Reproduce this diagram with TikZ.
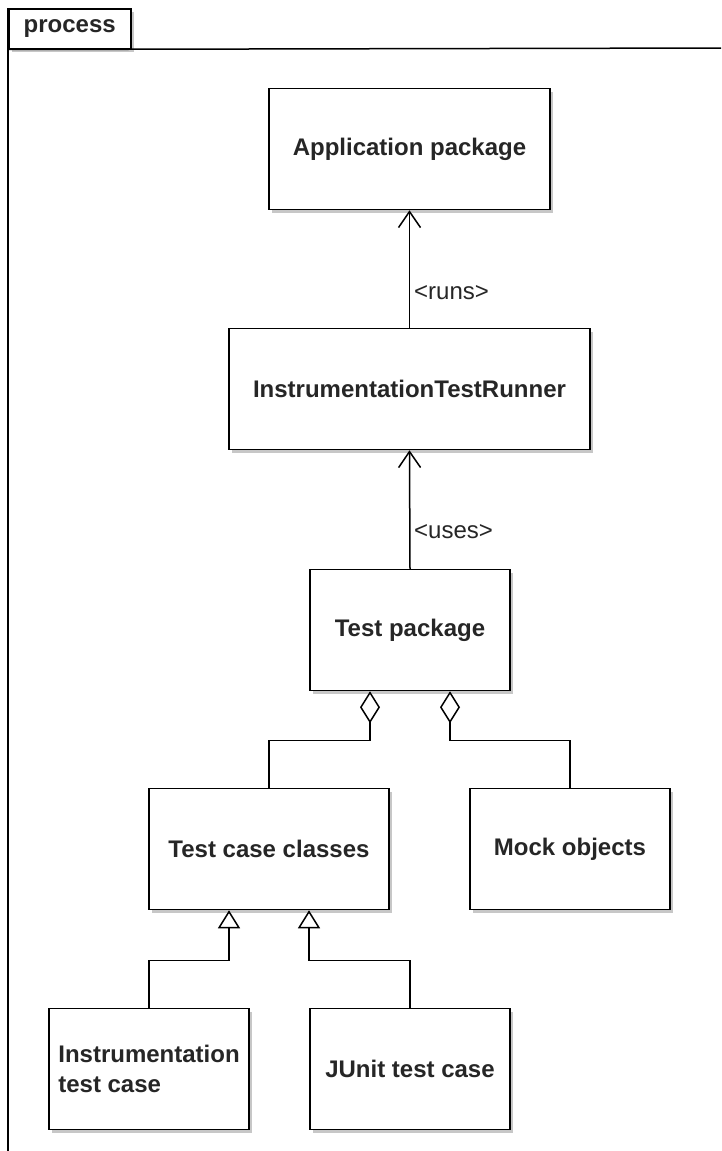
\documentclass[tikz,border=0pt]{standalone}
\usepackage{fontspec}
\setmainfont{Liberation Sans}
\usetikzlibrary{arrows.meta,shadows}
\begin{document}
\begin{tikzpicture}[x=1pt,y=-1pt,
  shade/.style={drop shadow={shadow xshift=3pt,shadow yshift=-3pt,fill=black!22,opacity=1}},
  umlbox/.style={draw=black,line width=1.5pt,fill=white,minimum width=#1,minimum height=121pt,
    inner sep=0pt,align=center,font=\fontsize{24}{30}\selectfont\bfseries,text=black!85,shade},
  lbl/.style={anchor=west,inner sep=0pt,font=\fontsize{24}{30}\selectfont,text=black!85},
  conn/.style={draw=black,line width=1.5pt},
  dep/.style={conn,-{Straight Barb[length=16pt,width=22pt,line width=1.5pt]}},
  agg/.style={conn,{Diamond[length=32pt,width=20pt,fill=white]}-},
  gen/.style={conn,{Triangle[length=18pt,width=22pt,fill=white]}-}]
\useasboundingbox (0,0) rectangle (721,1151);
\clip (0,0) rectangle (721,1151);
\fill[white] (0,0) rectangle (721,1151);

% package frame with its name tab
\node[draw=black,line width=1.5pt,fill=white,minimum width=122pt,minimum height=40pt,inner sep=0pt,
  anchor=north west,font=\fontsize{24}{30}\selectfont\bfseries,text=black!85,shade] (tab) at (8,8) {process};
\draw[conn] (tab.south west) -- (730,48);
\draw[conn] (tab.north west) -- (8,1160);

% packages and classes
\node[umlbox=281pt] (ap)  at (409.5,149) {Application package};
\node[umlbox=361pt] (itr) at (409.5,389) {InstrumentationTestRunner};
\node[umlbox=200pt] (tp)  at (410,630)   {Test package};
\node[umlbox=240pt] (tcc) at (269,849)   {Test case classes};
\node[umlbox=200pt] (mo)  at (570,849)   {Mock objects};
\node[umlbox=200pt,align=left] (itc) at (149,1069) {Instrumentation\\test case};
\node[umlbox=200pt] (ju)  at (410,1069)  {JUnit test case};

% dependencies
\draw[dep] (itr.north) -- (ap.south);
\draw[dep] (tp.north) -- (itr.south);
\node[lbl] (runs) at (414,293) {<runs>};
\node[lbl] (uses) at (414,532) {<uses>};

% aggregation
\draw[agg] ([xshift=-40pt]tp.south) -- ++(0,49) -| (tcc.north);
\draw[agg] ([xshift=40pt]tp.south) -- ++(0,49) -| (mo.north);

% generalization
\draw[gen] ([xshift=-40pt]tcc.south) -- ++(0,50) -| (itc.north);
\draw[gen] ([xshift=40pt]tcc.south) -- ++(0,50) -| (ju.north);
\end{tikzpicture}
\end{document}
